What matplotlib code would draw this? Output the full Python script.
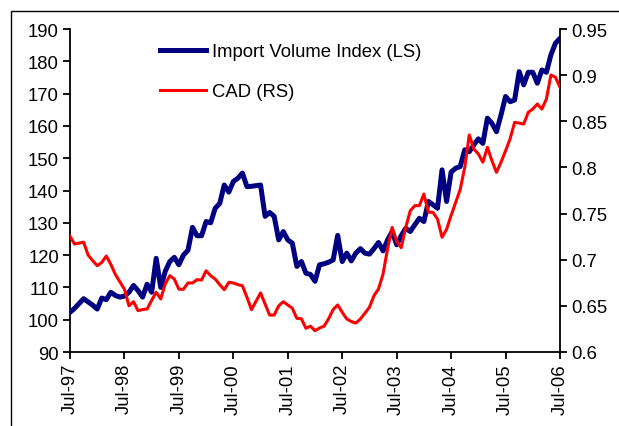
import matplotlib
matplotlib.use("Agg")
import matplotlib.pyplot as plt
from matplotlib.lines import Line2D
from matplotlib.patches import Rectangle

plt.rcParams['font.family'] = ['Liberation Sans', 'DejaVu Sans']

# Monthly data, Jul-97 .. Jul-06 (index 0..108)
import_volume = [
    102.3, 103.5, 105.0, 106.5, 105.5, 104.5, 103.3, 106.7, 106.2, 108.5,
    107.5, 107.0, 107.3, 108.5, 110.6, 109.0, 107.0, 111.0, 108.5, 119.0,
    110.0, 115.0, 118.0, 119.3, 117.0, 120.0, 121.5, 128.6, 126.0, 126.0,
    130.4, 130.0, 134.5, 136.0, 141.7, 139.5, 142.8, 143.8, 145.4, 141.2,
    141.3, 141.5, 141.7, 132.0, 133.2, 132.0, 124.7, 127.3, 124.7, 123.7,
    116.5, 118.0, 114.4, 114.0, 111.9, 117.0, 117.3, 117.8, 118.5, 126.1,
    118.0, 120.6, 118.2, 120.6, 122.0, 120.6, 120.3, 122.0, 123.9, 121.3,
    124.7, 127.3, 123.2, 126.0, 128.3, 127.3, 129.4, 131.4, 130.4, 136.6,
    135.6, 134.5, 146.4, 136.6, 145.7, 146.9, 147.4, 152.6, 152.0, 154.1,
    156.0, 154.6, 162.4, 160.8, 158.2, 163.4, 169.1, 167.5, 168.0, 176.8,
    172.7, 176.6, 176.6, 173.2, 177.3, 176.6, 182.0, 185.6, 187.1,
]
cad = [
    0.7254, 0.717, 0.718, 0.719, 0.705, 0.699, 0.6935, 0.697, 0.704, 0.695,
    0.684, 0.676, 0.668, 0.650, 0.6545, 0.6448, 0.646, 0.6466, 0.656, 0.6647,
    0.6575, 0.674, 0.6827, 0.679, 0.668, 0.668, 0.6748, 0.6748, 0.6784, 0.678,
    0.688, 0.6827, 0.679, 0.673, 0.6675, 0.6755, 0.6748, 0.673, 0.6718, 0.6593,
    0.6459, 0.655, 0.664, 0.652, 0.640, 0.640, 0.650, 0.6545, 0.651, 0.6474,
    0.6365, 0.636, 0.6257, 0.628, 0.623, 0.626, 0.628, 0.636, 0.646, 0.651,
    0.643, 0.6358, 0.633, 0.6314, 0.6358, 0.642, 0.6485, 0.661, 0.6683, 0.6845,
    0.712, 0.735, 0.720, 0.713, 0.735, 0.753, 0.7586, 0.7586, 0.7712, 0.7514,
    0.7514, 0.7441, 0.7243, 0.733, 0.748, 0.762, 0.776, 0.800, 0.8352, 0.820,
    0.8146, 0.8056, 0.8218, 0.8073, 0.7947, 0.8056, 0.818, 0.831, 0.8489, 0.848,
    0.847, 0.8597, 0.8633, 0.8687, 0.8633, 0.8741, 0.9002, 0.8977, 0.8868,
]
months = list(range(len(import_volume)))
tick_pos = [0, 12, 24, 36, 48, 60, 72, 84, 96, 108]
tick_labels = ['Jul-97', 'Jul-98', 'Jul-99', 'Jul-00', 'Jul-01',
               'Jul-02', 'Jul-03', 'Jul-04', 'Jul-05', 'Jul-06']
left_ticks = [90, 100, 110, 120, 130, 140, 150, 160, 170, 180, 190]
right_ticks = [0.6, 0.65, 0.7, 0.75, 0.8, 0.85, 0.9, 0.95]
right_labels = ['0.6', '0.65', '0.7', '0.75', '0.8', '0.85', '0.9', '0.95']

W, H = 619, 427
fig = plt.figure(figsize=(W / 100, H / 100), dpi=100)
ax = fig.add_axes([70 / W, 1 - 353 / H, 490 / W, 323 / H])
ax2 = ax.twinx()

navy = '#000080'
red = '#ff0000'
ax.plot(months, import_volume, color=navy, lw=3.6, solid_joinstyle='round',
        solid_capstyle='round', zorder=3)
ax2.plot(months, cad, color=red, lw=2.2, solid_joinstyle='round', zorder=3)

ax.set_xlim(0, 108)
ax.set_ylim(90, 190)
ax2.set_ylim(0.6, 0.95)
ax.set_yticks(left_ticks)
ax2.set_yticks(right_ticks)
ax2.set_yticklabels(right_labels)
ax.set_xticks(tick_pos)
ax.set_xticklabels(tick_labels, rotation=90)

fs = 13.3
for a in (ax, ax2):
    a.spines['top'].set_visible(False)
    for s in a.spines.values():
        s.set_linewidth(1.3)
    a.tick_params(direction='out', length=5, width=1.3, labelsize=fs, pad=3)
ax.spines['right'].set_visible(False)
ax2.spines['left'].set_visible(False)
ax2.spines['bottom'].set_visible(False)
ax2.patch.set_visible(False)

handles = [Line2D([], [], color=navy, lw=3.6),
           Line2D([], [], color=red, lw=2.2)]
fig.legend(handles, ['Import Volume Index (LS)', 'CAD (RS)'],
           loc='upper left', bbox_to_anchor=(160 / W, 1 - 44 / H),
           frameon=False, fontsize=fs, handlelength=2.5,
           handletextpad=0.3, labelspacing=1.25, borderpad=0,
           borderaxespad=0)

# outer frame (partially visible)
fig.patches.append(Rectangle((11 / W, -0.1), 1.2, 1 - 12 / H + 0.1,
                             transform=fig.transFigure, fill=False,
                             edgecolor='black', lw=1.0))

fig.savefig('out.png', dpi=100)
